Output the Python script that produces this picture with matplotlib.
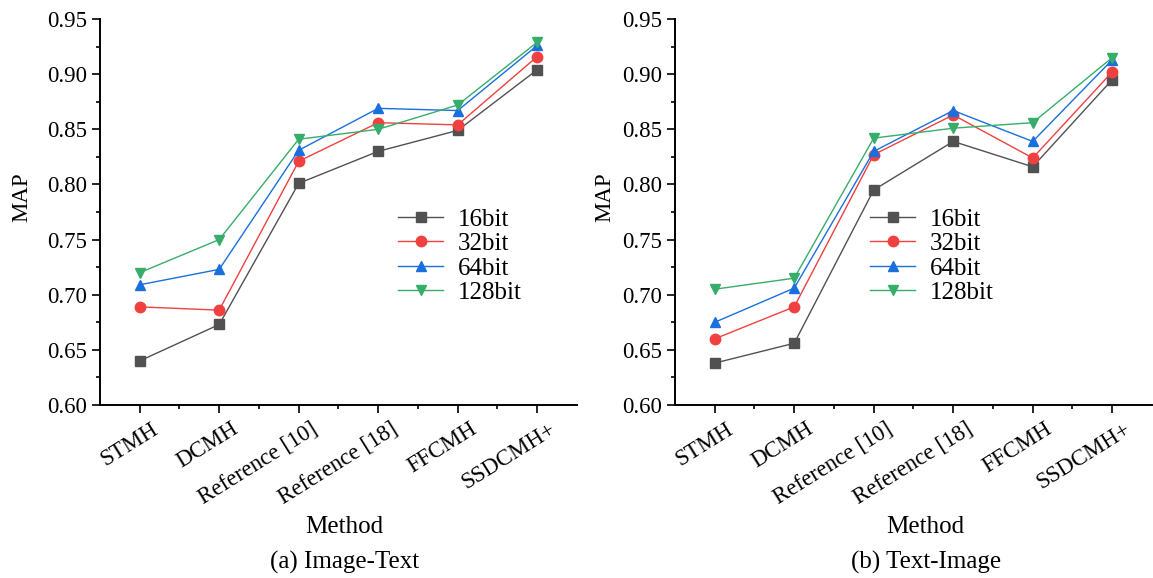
import matplotlib
matplotlib.use('Agg')
from matplotlib import pyplot as plt
from matplotlib.ticker import MultipleLocator, FormatStrFormatter
import matplotlib.transforms as mtransforms

plt.rcParams['font.family'] = ['Liberation Serif', 'DejaVu Serif']

methods = ['STMH', 'DCMH', 'Reference [10]', 'Reference [18]', 'FFCMH', 'SSDCMH+']
bits = ['16bit', '32bit', '64bit', '128bit']

# (a) Image-Text
img_txt_16 = [0.640, 0.673, 0.801, 0.830, 0.849, 0.904]
img_txt_32 = [0.689, 0.686, 0.821, 0.856, 0.854, 0.916]
img_txt_64 = [0.709, 0.723, 0.831, 0.869, 0.867, 0.926]
img_txt_128 = [0.720, 0.750, 0.841, 0.850, 0.872, 0.929]

# (b) Text-Image
txt_img_16 = [0.638, 0.656, 0.795, 0.839, 0.816, 0.895]
txt_img_32 = [0.660, 0.689, 0.827, 0.863, 0.824, 0.902]
txt_img_64 = [0.675, 0.706, 0.830, 0.867, 0.839, 0.913]
txt_img_128 = [0.705, 0.715, 0.842, 0.851, 0.856, 0.915]

colors = ['#515151', '#F14040', '#1A6FDF', '#37AD6B']
markers = ['s', 'o', '^', 'v']

fig = plt.figure(figsize=(11.53, 5.78), dpi=100)
ax_a = fig.add_axes([0.0867, 0.2993, 0.4137, 0.6678])
ax_b = fig.add_axes([0.5854, 0.2993, 0.4137, 0.6678])

panels = [
    (ax_a, [img_txt_16, img_txt_32, img_txt_64, img_txt_128], 0.625),
    (ax_b, [txt_img_16, txt_img_32, txt_img_64, txt_img_128], 0.409),
]

x = list(range(len(methods)))
for ax, series, leg_x in panels:
    for vals, name, c, m in zip(series, bits, colors, markers):
        ax.plot(x, vals, color=c, marker=m, markersize=7.5, linewidth=1.0, label=name)

    ax.set_xlim(-0.5, 5.5)
    ax.set_ylim(0.60, 0.95)
    ax.yaxis.set_major_locator(MultipleLocator(0.05))
    ax.yaxis.set_minor_locator(MultipleLocator(0.025))
    ax.yaxis.set_major_formatter(FormatStrFormatter('%.2f'))
    ax.set_xticks(x)
    ax.set_xticks([i + 0.5 for i in x[:-1]], minor=True)
    ax.set_xticklabels([])

    # rotated category labels, baseline end sits right of and below each tick
    offset = mtransforms.ScaledTranslation(20 / 100, -27 / 100, fig.dpi_scale_trans)
    for i, name in enumerate(methods):
        ax.text(i, 0, name, transform=ax.get_xaxis_transform() + offset,
                rotation=32, ha='right', va='baseline', rotation_mode='anchor',
                fontsize=16.5, clip_on=False)

    ax.spines['top'].set_visible(False)
    ax.spines['right'].set_visible(False)
    for s in ('left', 'bottom'):
        ax.spines[s].set_linewidth(1.4)
    ax.tick_params(which='major', direction='out', length=6, width=1.2)
    ax.tick_params(axis='y', labelsize=16.5)
    ax.tick_params(which='minor', direction='out', length=3, width=1.2)

    ax.legend(loc='upper left', bbox_to_anchor=(leg_x, 0.51), frameon=False, fontsize=18,
              borderpad=0, borderaxespad=0, handlelength=1.8, handletextpad=0.6, labelspacing=0.08)

fig.text(22 / 1153, 1 - 197 / 578, 'MAP', rotation=90, ha='center', va='center', fontsize=16.5)
fig.text(605 / 1153, 1 - 197 / 578, 'MAP', rotation=90, ha='center', va='center', fontsize=16.5)
fig.text(344 / 1153, 1 - 527 / 578, 'Method', ha='center', va='center', fontsize=18)
fig.text(925 / 1153, 1 - 527 / 578, 'Method', ha='center', va='center', fontsize=18)
fig.text(345 / 1153, 1 - 562 / 578, '(a) Image-Text', ha='center', va='center', fontsize=18)
fig.text(926 / 1153, 1 - 562 / 578, '(b) Text-Image', ha='center', va='center', fontsize=18)

fig.savefig('out.png', dpi=100)
